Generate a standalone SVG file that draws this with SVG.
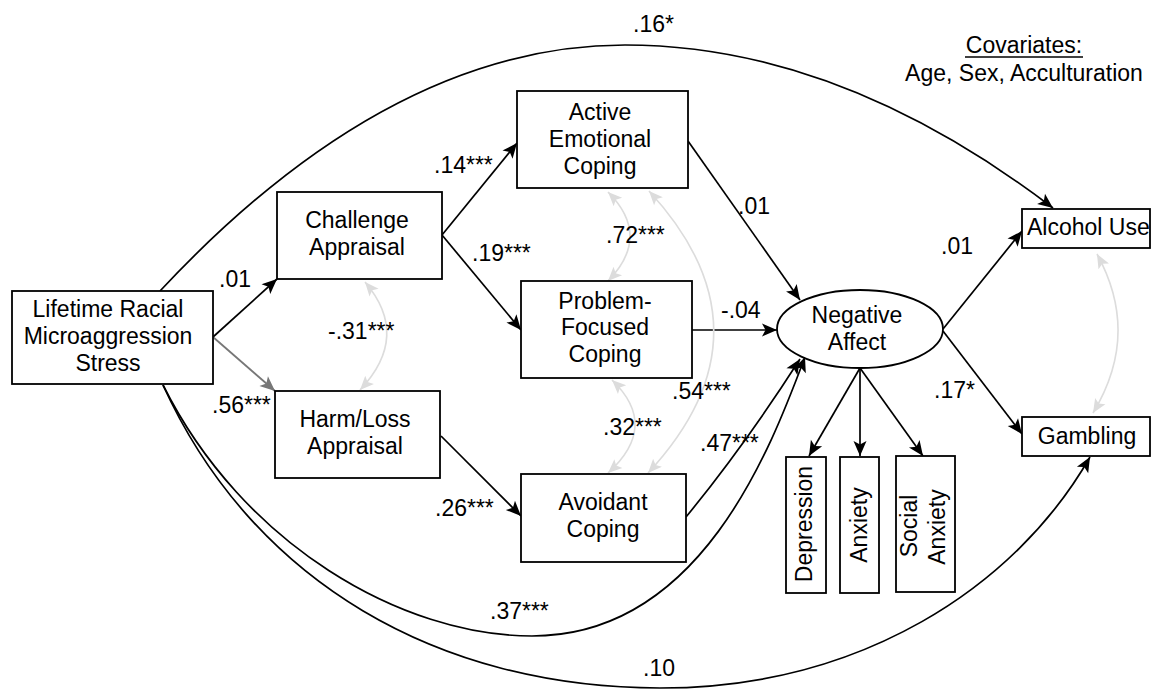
<svg xmlns="http://www.w3.org/2000/svg" width="1151" height="690" viewBox="0 0 1151 690">
  <defs>
    <marker id="arrow" markerUnits="userSpaceOnUse" viewBox="-16 -8 17 16" markerWidth="17" markerHeight="16" refX="0" refY="0" orient="auto">
      <path d="M0,0 L-15,-6.5 L-11.5,0 L-15,6.5 Z" fill="#000"/>
    </marker>
    <marker id="arrow-mid" markerUnits="userSpaceOnUse" viewBox="-16 -8 17 16" markerWidth="17" markerHeight="16" refX="0" refY="0" orient="auto">
      <path d="M0,0 L-15,-6.5 L-11.5,0 L-15,6.5 Z" fill="#777"/>
    </marker>
    <marker id="arrow-cov" markerUnits="userSpaceOnUse" viewBox="-16 -8 17 16" markerWidth="17" markerHeight="16" refX="0" refY="0" orient="auto-start-reverse">
      <path d="M0,0 L-14,-6 L-11,0 L-14,6 Z" fill="#dcdcdc"/>
    </marker>
  </defs>
  <style>
    text { font-family: "Liberation Sans", Arial, Helvetica, sans-serif; font-size: 23px; fill: #000; }
    .box { fill: #fff; stroke: #000; stroke-width: 1.8; }
    .mid { text-anchor: middle; }
    .path { fill: none; stroke: #000; stroke-width: 1.7; marker-end: url(#arrow); }
    .path-grey { fill: none; stroke: #777; stroke-width: 1.8; marker-end: url(#arrow-mid); }
    .cov { fill: none; stroke: #dcdcdc; stroke-width: 1.6; marker-start: url(#arrow-cov); marker-end: url(#arrow-cov); }
  </style>

  <!-- connectors -->
  <g id="connectors">
    <path class="path" d="M160,291 Q390,45 625,45 Q839,45 1053,208"/>
    <path class="path" d="M213,337 L277,279"/>
    <path class="path-grey" d="M213,337 L275,391"/>
    <path class="path" d="M442,235 L517,143"/>
    <path class="path" d="M442,235 L521,330"/>
    <path class="path" d="M441,436 L521,516"/>
    <path class="path" d="M688,141 L800,300"/>
    <path class="path" d="M692,330 L777,330"/>
    <path class="path" d="M686,517 Q745,445 800,359"/>
    <path class="path" d="M163,385 C243,545 402,636 532,636 C700,636 770,450 805,357"/>
    <path class="path" d="M163,385 C253,583 440,688 660,688 C860,688 1015,588 1090,457"/>
    <path class="path" d="M860,368 L809,456"/>
    <path class="path" d="M860,368 L860,456"/>
    <path class="path" d="M860,368 L923,456"/>
    <path class="path" d="M943,329 L1022,231"/>
    <path class="path" d="M943,331 L1022,434"/>
    <!-- correlations -->
    <path class="cov" d="M365,282 Q411,336 360,390"/>
    <path class="cov" d="M608,192 Q652,236 608,281"/>
    <path class="cov" d="M612,380 Q660,426 608,473"/>
    <path class="cov" d="M649,191 Q779,332 648,473"/>
    <path class="cov" d="M1097,254 Q1141,334 1093,413"/>
  </g>

  <!-- path coefficients -->
  <g id="labels">
    <text x="633" y="32">.16*</text>
    <text x="219" y="287">.01</text>
    <text x="212" y="413">.56***</text>
    <text x="434" y="173">.14***</text>
    <text x="472" y="261">.19***</text>
    <text x="328" y="339">-.31***</text>
    <text x="606" y="243">.72***</text>
    <text x="738" y="214">.01</text>
    <text x="721" y="318">-.04</text>
    <text x="672" y="399">.54***</text>
    <text x="603" y="435">.32***</text>
    <text x="700" y="451">.47***</text>
    <text x="435" y="516">.26***</text>
    <text x="490" y="619">.37***</text>
    <text x="643" y="676">.10</text>
    <text x="941" y="254">.01</text>
    <text x="934" y="398">.17*</text>
  </g>

  <g id="covariates">
    <text class="mid" x="1024" y="53">Covariates:</text>
    <line x1="965" y1="57" x2="1083" y2="57" stroke="#000" stroke-width="1.3"/>
    <text class="mid" x="1024" y="81">Age, Sex, Acculturation</text>
  </g>

  <g id="lifetime-stress">
    <rect class="box" x="12" y="291" width="201" height="93"/>
    <text class="mid" x="108" y="317">Lifetime Racial</text>
    <text class="mid" x="108" y="344">Microaggression</text>
    <text class="mid" x="108" y="371">Stress</text>
  </g>

  <g id="challenge-appraisal">
    <rect class="box" x="277" y="192" width="165" height="87"/>
    <text class="mid" x="357" y="228">Challenge</text>
    <text class="mid" x="357" y="255">Appraisal</text>
  </g>

  <g id="harm-loss-appraisal">
    <rect class="box" x="275" y="391" width="165" height="87"/>
    <text class="mid" x="355" y="427">Harm/Loss</text>
    <text class="mid" x="355" y="454">Appraisal</text>
  </g>

  <g id="active-emotional-coping">
    <rect class="box" x="517" y="91" width="171" height="97"/>
    <text class="mid" x="600" y="120">Active</text>
    <text class="mid" x="600" y="147">Emotional</text>
    <text class="mid" x="600" y="174">Coping</text>
  </g>

  <g id="problem-focused-coping">
    <rect class="box" x="521" y="281" width="171" height="97"/>
    <text class="mid" x="605" y="309">Problem-</text>
    <text class="mid" x="605" y="335">Focused</text>
    <text class="mid" x="605" y="362">Coping</text>
  </g>

  <g id="avoidant-coping">
    <rect class="box" x="521" y="474" width="165" height="88"/>
    <text class="mid" x="603" y="510">Avoidant</text>
    <text class="mid" x="603" y="537">Coping</text>
  </g>

  <g id="negative-affect">
    <ellipse class="box" cx="860" cy="329" rx="83" ry="39"/>
    <text class="mid" x="857" y="323">Negative</text>
    <text class="mid" x="857" y="350">Affect</text>
  </g>

  <g id="depression">
    <rect class="box" x="786" y="457" width="40" height="136"/>
    <text class="mid" transform="translate(812,524) rotate(-90)">Depression</text>
  </g>

  <g id="anxiety">
    <rect class="box" x="840" y="457" width="39" height="136"/>
    <text class="mid" transform="translate(867,525) rotate(-90)">Anxiety</text>
  </g>

  <g id="social-anxiety">
    <rect class="box" x="896" y="456" width="59" height="136"/>
    <text class="mid" transform="translate(917,526) rotate(-90)">Social</text>
    <text class="mid" transform="translate(945,527) rotate(-90)">Anxiety</text>
  </g>

  <g id="alcohol-use">
    <rect class="box" x="1022" y="209" width="128" height="39"/>
    <text x="1027" y="235">Alcohol Use</text>
  </g>

  <g id="gambling">
    <rect class="box" x="1022" y="417" width="128" height="39"/>
    <text class="mid" x="1087" y="444">Gambling</text>
  </g>
</svg>
